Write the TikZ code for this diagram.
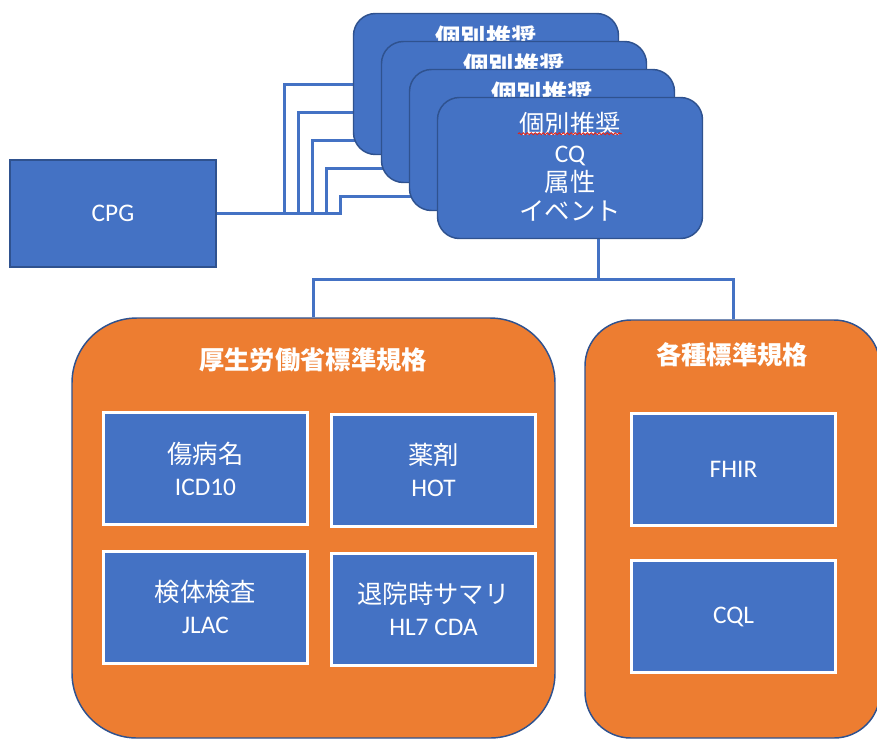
\documentclass[tikz,border=0pt]{standalone}
\usepackage{fontspec}
\setmainfont{Carlito}
\newfontfamily\jp{Noto Sans CJK JP}
\usetikzlibrary{calc,backgrounds,decorations.pathmorphing}
\definecolor{boxblue}{HTML}{4472C4}
\definecolor{edgeblue}{HTML}{2F528F}
\definecolor{orangefill}{HTML}{ED7D31}
\definecolor{spellred}{HTML}{E0241B}

\begin{document}
\begin{tikzpicture}[x=0.75pt,y=-0.75pt,
  font=\fontsize{19}{22}\selectfont,
  conn/.style={draw=boxblue,line width=2.25pt},
  plainbox/.style={draw=edgeblue,line width=1.1pt,fill=boxblue,text=white,
    minimum width=154.5pt,minimum height=80.25pt,inner sep=0pt},
  stackbox/.style={draw=edgeblue,line width=1.1pt,fill=boxblue,rounded corners=16.5pt,
    minimum width=198.75pt,minimum height=105.75pt,inner sep=0pt},
  stacktitle/.style={text=white,inner sep=0pt,font=\jp\bfseries\fontsize{19}{22}\selectfont},
  stacktext/.style={text=white,inner sep=0pt,align=center,font=\fontsize{19}{21.75}\selectfont},
  groupbox/.style={draw=edgeblue,line width=1.1pt,fill=orangefill,inner sep=0pt},
  grouptitle/.style={text=white,inner sep=0pt,font=\jp\bfseries\fontsize{19}{22}\selectfont},
  itembox/.style={draw=white,line width=2.25pt,fill=boxblue,text=white,align=center,
    minimum width=153pt,minimum height=84pt,inner sep=0pt,font=\fontsize{19}{24}\selectfont},
  wavy/.style={draw=spellred,line width=0.7pt,decorate,
    decoration={snake,segment length=3pt,amplitude=0.7pt}}]
\useasboundingbox (0,0) rectangle (877,740);
\clip (0,0) rectangle (877,740);

% source guideline
\node[plainbox] (cpg) at (113,213.5) {CPG};

% stacked recommendation cards, back to front
\node[stackbox] (b1) at (486,84) {};
\node[stacktitle] (t1) at ($(b1.north)+(0,25)$) {個別推奨};
\node[stackbox] (b2) at (514,112) {};
\node[stacktitle] (t2) at ($(b2.north)+(0,25)$) {個別推奨};
\node[stackbox] (b3) at (542,140) {};
\node[stacktitle] (t3) at ($(b3.north)+(0,25)$) {個別推奨};
\node[stackbox] (b4) at (570,168) {};
\node[stacktext] (t4) at ($(b4.center)+(0,-1)$) {{\jp 個別推奨}\\CQ\\{\jp 属性}\\{\jp イベント}};
\draw[wavy] ($(b4.north)+(-52,37)$) -- ($(b4.north)+(52,37)$);
\coordinate (c5) at ($(b4.west)+(0,28)$);
\coordinate (b4out) at ($(b4.south)+(28,0)$);

% standards groups
\node[groupbox,rounded corners=48.75pt,minimum width=362.25pt,minimum height=315pt] (mhlw) at (313.5,528) {};
\node[grouptitle] (mhlwt) at (313,360) {厚生労働省標準規格};
\node[groupbox,rounded corners=34.5pt,minimum width=221.25pt,minimum height=313.5pt] (std) at (732.5,529) {};
\node[grouptitle] (stdt) at (732,355) {各種標準規格};

% items of the ministry standards
\node[itembox] (icd) at (205.5,468.5) {{\jp 傷病名}\\ICD10};
\node[itembox] (hot) at (433.5,470) {{\jp 薬剤}\\HOT};
\node[itembox] (jlac) at (205.5,607) {{\jp 検体検査}\\JLAC};
\node[itembox] (cda) at (433.5,609) {{\jp 退院時サマリ}\\HL7 CDA};

% items of the other standards
\node[itembox] (fhir) at (733.5,469.5) {FHIR};
\node[itembox] (cql) at (733.5,616.5) {CQL};

% elbow connectors behind all shapes
\begin{scope}[on background layer]
  \draw[conn] (cpg.east) -- (284,213.5) |- (b1.west);
  \draw[conn] (cpg.east) -- (298,213.5) |- (b2.west);
  \draw[conn] (cpg.east) -- (312,213.5) |- (b3.west);
  \draw[conn] (cpg.east) -- (326,213.5) |- (b4.west);
  \draw[conn] (cpg.east) -- (340,213.5) |- (c5);
  \draw[conn] (b4out) -- ++(0,40) -| (mhlw.north);
  \draw[conn] (b4out) -- ++(0,40) -| ($(std.north)+(1,0)$);
\end{scope}
\end{tikzpicture}
\end{document}
